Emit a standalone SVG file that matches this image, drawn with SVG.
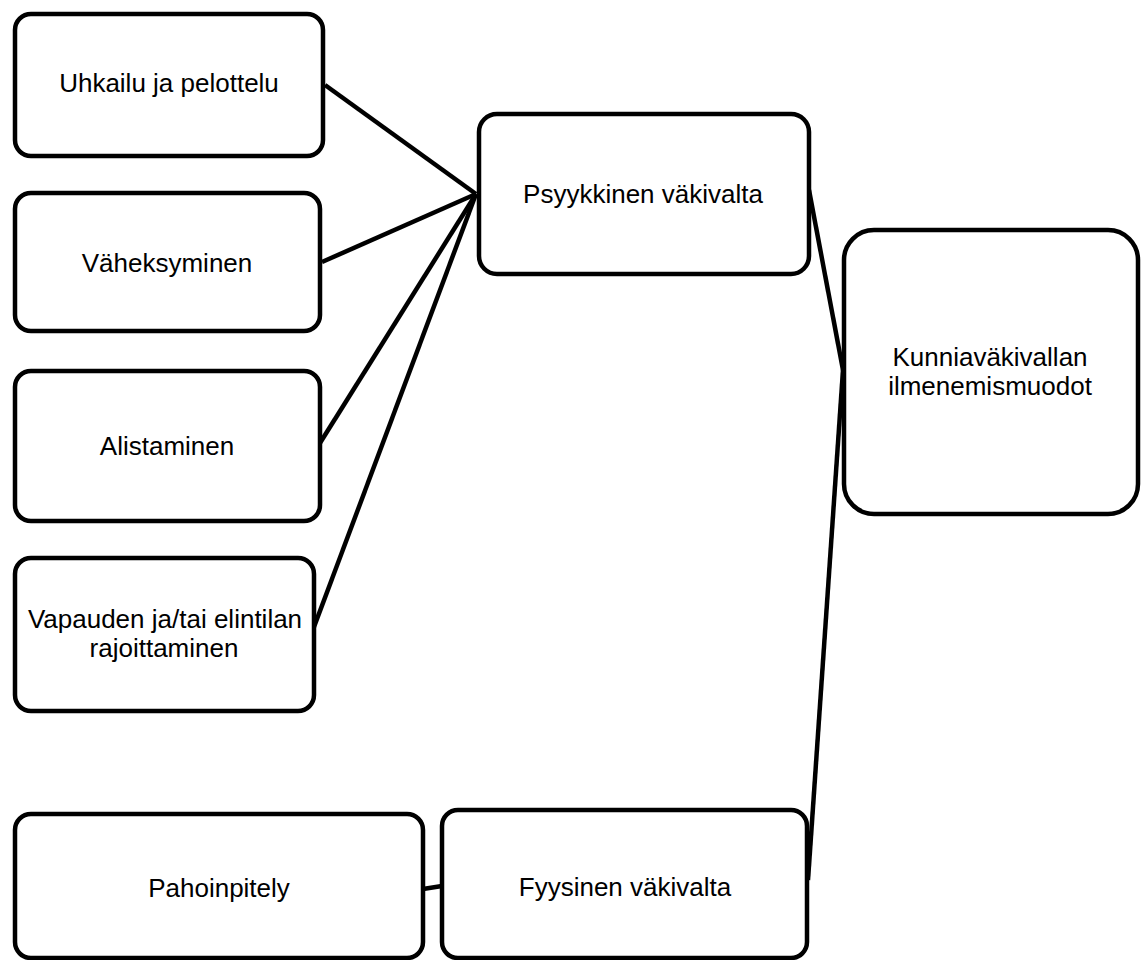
<svg xmlns="http://www.w3.org/2000/svg" width="1142" height="960" viewBox="0 0 1142 960">
<style>
.box{fill:#fff;stroke:#000;stroke-width:4.5}
.lbl{font-family:"Liberation Sans",Arial,sans-serif;font-size:26px;fill:#000;text-anchor:middle}
.conn line{stroke:#000;stroke-width:4.5;stroke-linecap:butt}
</style>
<rect width="1142" height="960" fill="#fff"/>
<g class="conn" id="connectors">
<line x1="325" y1="85" x2="476" y2="194"/>
<line x1="322" y1="262" x2="476" y2="194"/>
<line x1="320" y1="443" x2="476" y2="194"/>
<line x1="314" y1="627" x2="476" y2="194"/>
<line x1="809" y1="190" x2="843" y2="370"/>
<line x1="843" y1="370" x2="808" y2="880"/>
<line x1="423" y1="889" x2="442" y2="886"/>
</g>
<g id="n1"><rect class="box" x="15" y="14" width="308" height="142" rx="16"/><text class="lbl" x="169" y="92">Uhkailu ja pelottelu</text></g>
<g id="n2"><rect class="box" x="15" y="193" width="305" height="138" rx="16"/><text class="lbl" x="167" y="272">Väheksyminen</text></g>
<g id="n3"><rect class="box" x="15" y="371" width="305" height="150" rx="16"/><text class="lbl" x="167" y="455">Alistaminen</text></g>
<g id="n4"><rect class="box" x="15" y="558" width="299" height="153" rx="16"/><text class="lbl" x="165" y="628">Vapauden ja/tai elintilan</text><text class="lbl" x="164" y="657">rajoittaminen</text></g>
<g id="n5"><rect class="box" x="479" y="114" width="330" height="160" rx="18"/><text class="lbl" x="643" y="203">Psyykkinen väkivalta</text></g>
<g id="n6"><rect class="box" x="844" y="230" width="294" height="284" rx="30"/><text class="lbl" x="990" y="366">Kunniaväkivallan</text><text class="lbl" x="990" y="395">ilmenemismuodot</text></g>
<g id="n7"><rect class="box" x="15" y="814" width="408" height="144" rx="16"/><text class="lbl" x="219" y="897">Pahoinpitely</text></g>
<g id="n8"><rect class="box" x="442" y="810" width="365" height="148" rx="16"/><text class="lbl" x="625" y="896">Fyysinen väkivalta</text></g>
</svg>
